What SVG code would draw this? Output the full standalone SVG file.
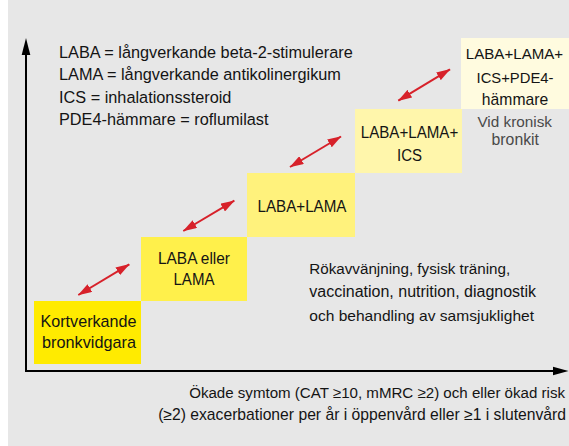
<svg xmlns="http://www.w3.org/2000/svg" width="569" height="446" viewBox="0 0 569 446">
  <style>
    text { font-family: "Liberation Sans", Arial, sans-serif; font-size: 16.3px; fill: #141414; }
    .c { text-anchor: middle; }
    .e { text-anchor: end; }
    .grey { fill: #4a4a4a; }
    .conn { stroke: #d7212a; stroke-width: 2; fill: none; marker-start: url(#ah); marker-end: url(#ah); }
    .axis { stroke: #000; stroke-width: 2; fill: none; }
  </style>
  <defs>
    <marker id="ah" viewBox="0 0 14 9" refX="13.5" refY="4.5" markerWidth="14" markerHeight="9" markerUnits="userSpaceOnUse" orient="auto-start-reverse">
      <path d="M0,0 L14,4.5 L0,9 z" fill="#d7212a"/>
    </marker>
  </defs>

  <rect x="8" y="0" width="561" height="446" fill="#e7e7e7"/>

  <g id="axes">
    <line class="axis" x1="26" y1="53" x2="26" y2="372"/>
    <polygon points="26,38 30.3,55 21.7,55" fill="#000"/>
    <line class="axis" x1="25" y1="371" x2="555" y2="371"/>
    <polygon points="568.5,371 553,366.8 553,375.2" fill="#000"/>
  </g>

  <g id="legend">
    <text x="59" y="57.5">LABA = långverkande beta-2-stimulerare</text>
    <text x="59" y="80">LAMA = långverkande antikolinergikum</text>
    <text x="59" y="102.5">ICS = inhalationssteroid</text>
    <text x="59" y="124.5">PDE4-hämmare = roflumilast</text>
  </g>

  <g id="node-kortverkande">
    <rect x="34" y="301" width="107" height="63" fill="#ffeb00"/>
    <text class="c" x="88.5" y="326.5" style="font-size:16.1px" textLength="96" lengthAdjust="spacingAndGlyphs">Kortverkande</text>
    <text class="c" x="89" y="348" style="font-size:16.2px" textLength="94" lengthAdjust="spacingAndGlyphs">bronkvidgara</text>
  </g>

  <g id="node-laba-eller-lama">
    <rect x="141" y="237" width="106" height="64" fill="#fff04b"/>
    <text class="c" x="194" y="263.5" style="font-size:15.6px" textLength="72" lengthAdjust="spacingAndGlyphs">LABA eller</text>
    <text class="c" x="194" y="284.5" style="font-size:15.6px" textLength="41" lengthAdjust="spacingAndGlyphs">LAMA</text>
  </g>

  <g id="node-laba-lama">
    <rect x="247" y="173" width="108" height="64" fill="#fff27c"/>
    <text class="c" x="302" y="211.5" style="font-size:15.6px" textLength="89" lengthAdjust="spacingAndGlyphs">LABA+LAMA</text>
  </g>

  <g id="node-laba-lama-ics">
    <rect x="355" y="109" width="107" height="64" fill="#fff6ab"/>
    <text class="c" x="409.5" y="138.3" style="font-size:15.6px" textLength="97.5" lengthAdjust="spacingAndGlyphs">LABA+LAMA+</text>
    <text class="c" x="409.5" y="160.5" style="font-size:15.6px" textLength="25" lengthAdjust="spacingAndGlyphs">ICS</text>
  </g>

  <g id="node-laba-lama-ics-pde4">
    <rect x="461" y="38" width="108" height="71" fill="#fffbdf"/>
    <text class="c" x="514.5" y="59.3" style="font-size:15.1px">LABA+LAMA+</text>
    <text class="c" x="515" y="82.7" style="font-size:14.8px">ICS+PDE4-</text>
    <text class="c" x="515" y="105" style="font-size:15.7px">hämmare</text>
    <text class="c grey" x="514.7" y="126.5" style="font-size:15.3px">Vid kronisk</text>
    <text class="c grey" x="515.3" y="145" style="font-size:15.8px">bronkit</text>
  </g>

  <g id="note">
    <text x="309.3" y="274" style="font-size:15.2px">Rökavvänjning, fysisk träning,</text>
    <text x="309.3" y="297.3" style="font-size:16px">vaccination, nutrition, diagnostik</text>
    <text x="309.3" y="320.7" style="font-size:15.55px">och behandling av samsjuklighet</text>
  </g>

  <g id="x-axis-label">
    <text class="e" x="565" y="397.5" style="font-size:15.1px">Ökade symtom (CAT ≥10, mMRC ≥2) och eller ökad risk</text>
    <text class="e" x="566" y="420" style="font-size:15.7px">(≥2) exacerbationer per år i öppenvård eller ≥1 i slutenvård</text>
  </g>

  <g id="connectors">
    <line class="conn" x1="78.3" y1="295" x2="129.3" y2="264.3"/>
    <line class="conn" x1="183.3" y1="231" x2="234.3" y2="200.7"/>
    <line class="conn" x1="290" y1="167" x2="341" y2="136.5"/>
    <line class="conn" x1="398.3" y1="100.7" x2="450" y2="69.3"/>
  </g>
</svg>
